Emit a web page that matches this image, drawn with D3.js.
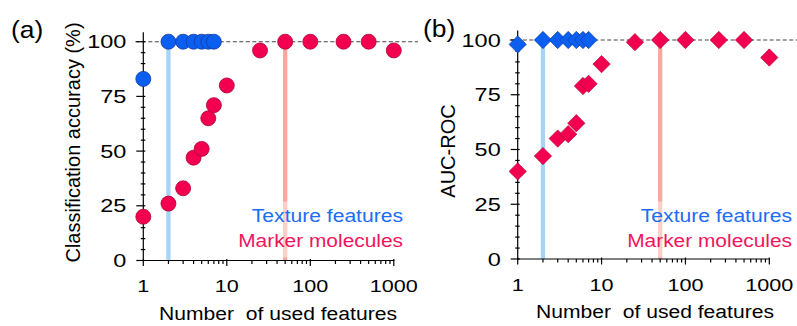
<!DOCTYPE html>
<html>
<head>
<meta charset="utf-8">
<script src="https://cdn.jsdelivr.net/npm/d3@7"></script>
<style>
  html, body { margin: 0; padding: 0; background: #fff; }
  svg { display: block; font-family: "Liberation Sans", Arial, sans-serif; }
</style>
</head>
<body>
<svg id="chart" width="797" height="326"></svg>
<script>
// Number of features used by each classifier
const textureCounts = [1, 2, 3, 4, 5, 6, 7];
const markerCounts = [1, 2, 3, 4, 5, 6, 7, 10, 25, 50, 100, 250, 500, 1000];

// (a) classification accuracy, %
const accuracyTexture = [83, 100, 100, 100, 100, 100, 100];
const accuracyMarker = [20, 26, 33, 47, 51, 65, 71, 80, 96, 100, 100, 100, 100, 96];

// (b) area under the ROC curve, %
const aucTexture = [98, 100, 100, 100, 100, 100, 100];
const aucMarker = [40, 47, 55, 57, 62, 79, 80, 89, 99, 100, 100, 100, 100, 92];

// feature counts at which each set first reaches its plateau
const textureThreshold = 2;
const markerThreshold = 50;

const xTickValues = [1, 10, 100, 1000];
const yTickValues = [0, 25, 50, 75, 100];
const legendLabels = ["Texture features", "Marker molecules"];
const xTitle = "Number\u00a0 of used features";

const BLUE_FILL = "#0b5ff0", BLUE_STROKE = "#16399a";
const RED_FILL = "#f2004f", RED_STROKE = "#b0003a";
const BLUE_TEXT = "#1b6df4", RED_TEXT = "#f2145c";
const BLUE_LINE = "#a7d3f7", RED_LINE = "#f8a99d";

const svg = d3.select("#chart");

// horizontally widened text, as in the figure's typography
function wideText(g, str, x, y, size, sx, anchor, fill) {
  return g.append("text")
    .attr("transform", `translate(${x},${y}) scale(${sx},1)`)
    .attr("text-anchor", anchor)
    .attr("font-size", size)
    .attr("fill", fill || "#000")
    .text(str);
}

function drawPanel(cfg) {
  const g = svg.append("g");
  const x = d3.scaleLog().domain([1, 1000]).range([cfg.left, cfg.right]);
  const y = d3.scaleLinear().domain([0, 100]).range([cfg.bottom, cfg.top100]);

  // reference line at 100 %
  g.append("line")
    .attr("x1", cfg.left - 8).attr("x2", cfg.dashEnd)
    .attr("y1", y(100)).attr("y2", y(100))
    .attr("stroke", "#444").attr("stroke-width", 1.1)
    .attr("stroke-dasharray", "4,2.5");

  // thresholds
  [[textureThreshold, BLUE_LINE], [markerThreshold, RED_LINE]].forEach(([v, c]) => {
    g.append("line")
      .attr("x1", x(v)).attr("x2", x(v))
      .attr("y1", y(100)).attr("y2", y(0))
      .attr("stroke", c).attr("stroke-width", 4.3);
  });

  // legend with a translucent white backing
  const lg = g.append("g");
  lg.append("rect")
    .attr("x", cfg.legendRight - 164).attr("y", cfg.legendY - 20)
    .attr("width", 166).attr("height", 56)
    .attr("fill", "#fff").attr("opacity", 0.45);
  wideText(lg, legendLabels[0], cfg.legendRight, cfg.legendY, 18.5, 1.14, "end", BLUE_TEXT);
  wideText(lg, legendLabels[1], cfg.legendRight, cfg.legendY + 25.5, 18.5, 1.13, "end", RED_TEXT);

  // y axis
  const ax = g.append("g").attr("stroke", "#000").attr("stroke-width", 1.2);
  ax.append("line")
    .attr("x1", cfg.left).attr("x2", cfg.left)
    .attr("y1", y(104.3)).attr("y2", y(0) + 0.6);
  d3.range(0, 101, 5).forEach(v => {
    const major = v % 25 === 0;
    ax.append("line")
      .attr("x1", cfg.left - (major ? 7 : 2.5)).attr("x2", cfg.left + 2)
      .attr("y1", y(v)).attr("y2", y(v));
  });
  yTickValues.forEach(v => {
    wideText(g, String(v), cfg.left - 17, y(v) + 6.5, 18.5, 1.27, "end");
  });

  // x axis
  ax.append("line")
    .attr("x1", cfg.left - 0.6).attr("x2", cfg.right + 0.6)
    .attr("y1", y(0)).attr("y2", y(0));
  const minor = [];
  [1, 10, 100].forEach(d => d3.range(2, 10).forEach(k => minor.push(d * k)));
  minor.forEach(v => {
    ax.append("line").attr("x1", x(v)).attr("x2", x(v))
      .attr("y1", y(0)).attr("y2", y(0) + 3.5);
  });
  xTickValues.forEach(v => {
    ax.append("line").attr("x1", x(v)).attr("x2", x(v))
      .attr("y1", y(0) - 1.5).attr("y2", y(0) + 5.5);
    wideText(g, String(v), x(v), cfg.bottom + 31.5, 17, 1.27, "middle");
  });

  // markers
  const marks = g.append("g");
  const drawSeries = (counts, values, fill, stroke) => {
    counts.forEach((c, i) => {
      if (cfg.shape === "circle") {
        marks.append("circle")
          .attr("cx", x(c)).attr("cy", y(values[i])).attr("r", 7.5)
          .attr("fill", fill).attr("stroke", stroke).attr("stroke-width", 0.8);
      } else {
        marks.append("path")
          .attr("d", d3.symbol(d3.symbolSquare, 150)())
          .attr("transform", `translate(${x(c)},${y(values[i])}) rotate(45)`)
          .attr("fill", fill).attr("stroke", stroke).attr("stroke-width", 0.6);
      }
    });
  };
  drawSeries(markerCounts, cfg.marker, RED_FILL, RED_STROKE);
  drawSeries(textureCounts, cfg.texture, BLUE_FILL, BLUE_STROKE);

  // titles
  wideText(g, xTitle, cfg.xTitleX, cfg.bottom + 59, 19, 1.11, "middle");
  g.append("text")
    .attr("transform", `translate(${cfg.yTitleX},${cfg.yTitleY}) rotate(-90)`)
    .attr("text-anchor", "middle").attr("font-size", 20)
    .text(cfg.yTitle);
  wideText(g, cfg.tag, cfg.tagX, cfg.tagY, 24, 1.1, "start");
}

drawPanel({
  left: 143.3, right: 393.8, bottom: 260.5, top100: 41.7, dashEnd: 418,
  shape: "circle", texture: accuracyTexture, marker: accuracyMarker,
  legendRight: 403, legendY: 221.5,
  xTitleX: 278, yTitle: "Classification accuracy (%)", yTitleX: 80, yTitleY: 142.5,
  tag: "(a)", tagX: 11, tagY: 38
});

drawPanel({
  left: 517.7, right: 769.3, bottom: 259, top100: 40, dashEnd: 797,
  shape: "diamond", texture: aucTexture, marker: aucMarker,
  legendRight: 792, legendY: 221.5,
  xTitleX: 655, yTitle: "AUC-ROC", yTitleX: 455, yTitleY: 151,
  tag: "(b)", tagX: 423, tagY: 37
});
</script>
</body>
</html>
